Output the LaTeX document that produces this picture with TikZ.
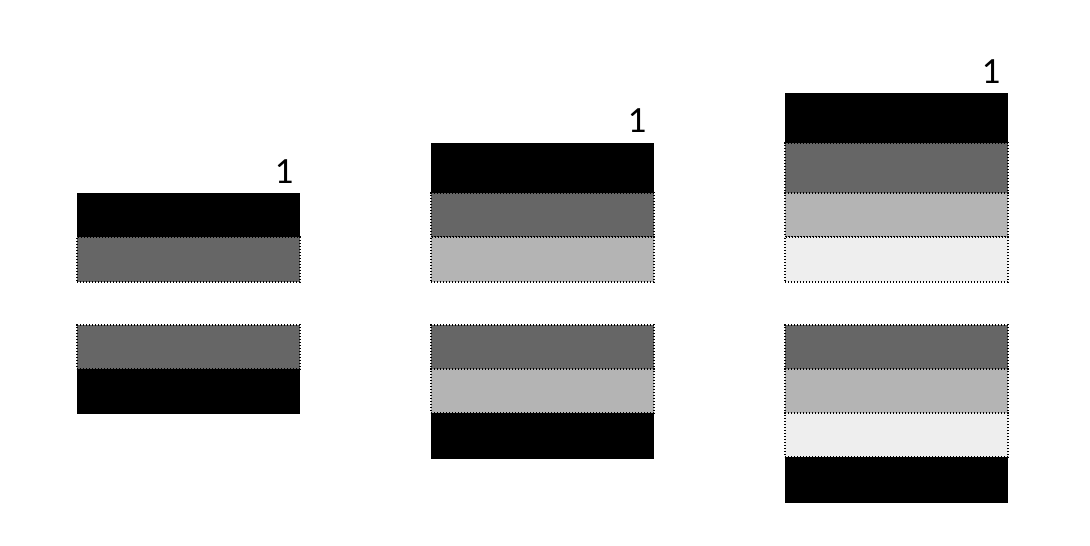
\documentclass[tikz,border=0pt]{standalone}
\usepackage{fontspec}
\setmainfont{Carlito}
\definecolor{gA}{RGB}{102,102,102}
\definecolor{gB}{RGB}{180,180,180}
\definecolor{gC}{RGB}{238,238,238}
\tikzset{
  band/.style={anchor=north west, inner sep=0pt, outer sep=0pt, minimum width=223pt, minimum height=#1},
  solidband/.style={band=#1, fill=black},
  dotband/.style={band=#1, draw=black, line width=1.3pt, dash pattern=on 1.4pt off 1.6pt},
  lbl/.style={inner sep=0pt, font=\fontsize{37}{42}\selectfont}
}
\begin{document}
\begin{tikzpicture}[x=1pt,y=-1pt]
\useasboundingbox (0,0) rectangle (1090,546);
% column 1
\node[solidband=44pt] (a1) at (77,193) {};
\node[dotband=45pt, fill=gA] (a2) at (77,237) {};
\node[dotband=44pt, fill=gA] (b1) at (77,325) {};
\node[solidband=45pt] (b2) at (77,369) {};
\node[lbl] (l1) at (284,172) {1};
% column 2
\node[solidband=50pt] (c1) at (431,143) {};
\node[dotband=44pt, fill=gA] (c2) at (431,193) {};
\node[dotband=45pt, fill=gB] (c3) at (431,237) {};
\node[dotband=44pt, fill=gA] (d1) at (431,325) {};
\node[dotband=44pt, fill=gB] (d2) at (431,369) {};
\node[solidband=46pt] (d3) at (431,413) {};
\node[lbl] (l2) at (637,121) {1};
% column 3
\node[solidband=50pt] (e1) at (785,93) {};
\node[dotband=50pt, fill=gA] (e2) at (785,143) {};
\node[dotband=44pt, fill=gB] (e3) at (785,193) {};
\node[dotband=45pt, fill=gC] (e4) at (785,237) {};
\node[dotband=44pt, fill=gA] (f1) at (785,325) {};
\node[dotband=44pt, fill=gB] (f2) at (785,369) {};
\node[dotband=44pt, fill=gC] (f3) at (785,413) {};
\node[solidband=46pt] (f4) at (785,457) {};
\node[lbl] (l3) at (991,72) {1};
\end{tikzpicture}
\end{document}
